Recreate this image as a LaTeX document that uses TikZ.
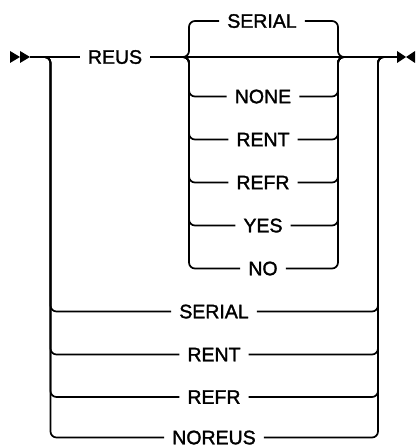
\documentclass[tikz,border=0pt]{standalone}
\usepackage{fontspec}
\setmainfont{Liberation Sans}
\newfontfamily\lblfont{Liberation Sans}[RawFeature={embolden=1.6}]
\begin{document}
\begin{tikzpicture}[x=1bp,y=-1bp,
  line/.style={line width=1.7bp, line join=round},
  rc/.style={line, rounded corners=6bp},
  lbl/.style={font=\lblfont\fontsize{19.5bp}{22bp}\selectfont, inner xsep=8bp, inner ysep=0pt, text height=13.5bp, text depth=0pt}]
\useasboundingbox (0,0) rectangle (417,447);
% junctions
\coordinate (st) at (30,57);
\coordinate (en) at (397,57);
\coordinate (ol) at (42,57);
\coordinate (olv) at (50.5,57);
\coordinate (orv) at (378,57);
\coordinate (or) at (386,57);
\coordinate (il) at (182,57);
\coordinate (ilv) at (189,57);
\coordinate (irv) at (338,57);
\coordinate (ir) at (345,57);
% labels
\node[lbl] (reus) at (115,57) {REUS};
\node[lbl] (ser1) at (262,21) {SERIAL};
\node[lbl] (none) at (263,96.5) {NONE};
\node[lbl] (rent1) at (263,139.5) {RENT};
\node[lbl] (refr1) at (263,182.5) {REFR};
\node[lbl] (yes) at (263,225.5) {YES};
\node[lbl] (no) at (263,268.5) {NO};
\node[lbl] (ser2) at (214,311.5) {SERIAL};
\node[lbl] (rent2) at (214,354.5) {RENT};
\node[lbl] (refr2) at (214,397) {REFR};
\node[lbl] (noreus) at (214,437.5) {NOREUS};
% start and end marks
\fill (10,51) -- (20,57) -- (10,63) -- cycle;
\fill (20,51) -- (30,57) -- (20,63) -- cycle;
\fill (397,51) -- (406,57) -- (397,63) -- cycle;
\fill (415,51) -- (406,57) -- (415,63) -- cycle;
% main line
\draw[line] (st) -- (reus.west);
\draw[line] (reus.east) -- (en);
% inner choice
\foreach \n in {ser1,none,rent1,refr1,yes,no}{
  \draw[rc] (il) -- (ilv) -- (ilv |- \n.west) -- (\n.west);
  \draw[rc] (\n.east) -- (irv |- \n.east) -- (irv) -- (ir);
}
% outer choice
\foreach \n in {ser2,rent2,refr2,noreus}{
  \draw[rc] (ol) -- (olv) -- (olv |- \n.west) -- (\n.west);
  \draw[rc] (\n.east) -- (orv |- \n.east) -- (orv) -- (or);
}
\end{tikzpicture}
\end{document}
